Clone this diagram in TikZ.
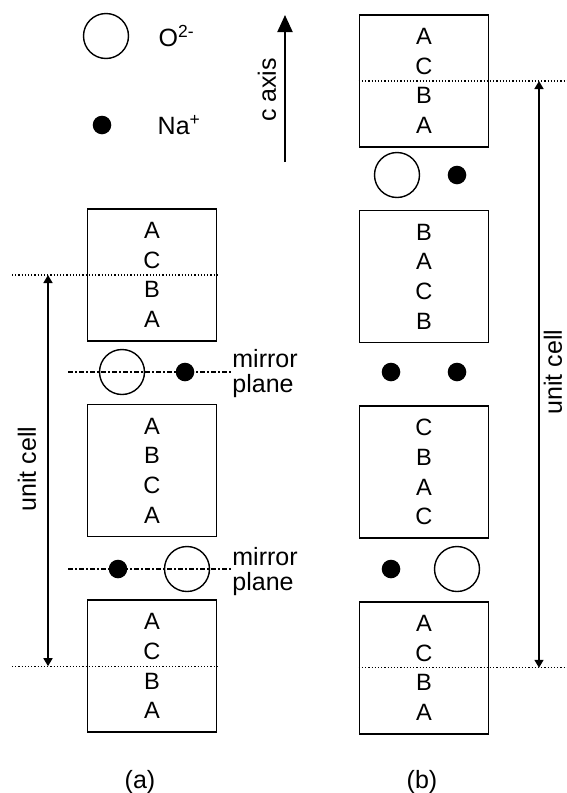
\documentclass[tikz,border=0pt]{standalone}
\usepackage{fontspec}
\setmainfont{Liberation Sans}
\usetikzlibrary{arrows.meta,positioning}

\begin{document}
\begin{tikzpicture}[x=0.5pt, y=-0.5pt, node distance=31pt]
  \tikzset{
    stack/.style={rectangle, draw, line width=0.8pt, minimum width=64.5pt, minimum height=66pt,
      inner sep=0pt, align=center, font=\fontsize{11.8}{14.8}\selectfont},
    oxy/.style={circle, draw, line width=0.7pt, minimum size=22.5pt, inner sep=0pt},
    sod/.style={circle, fill, minimum size=9.3pt, inner sep=0pt},
    lbl/.style={inner sep=0pt, font=\fontsize{12.5}{12.5}\selectfont},
    cellline/.style={densely dotted, line width=0.6pt},
    mirrorline/.style={line width=0.6pt, dash pattern=on 2.5pt off 1.2pt on 0.6pt off 1.2pt},
    cellarrow/.style={{Triangle[length=4pt,width=4.5pt]}-{Triangle[length=4pt,width=4.5pt]}, line width=0.8pt}
  }
  \useasboundingbox (0,0) rectangle (567,793);

  \node[oxy] (ko) at (106,36) {};
  \node[lbl, right=14.5pt of ko] (kol) {O\textsuperscript{2-}};
  \node[sod] (kn) at (102,125) {};
  \node[lbl, right=22.8pt of kn] (knl) {Na\textsuperscript{+}};

  \coordinate (cb) at (285,162);
  \coordinate (ct) at (285,15);
  \draw[-{Triangle[length=8.5pt,width=7.5pt]}, line width=1pt] (cb) -- (ct);
  \node[lbl, rotate=90] (cax) at (267,90) {c axis};

  \node[stack] (a1) at (152,275) {A\\C\\B\\A};
  \node[stack, below=of a1] (a2) {A\\B\\C\\A};
  \node[stack, below=of a2] (a3) {A\\C\\B\\A};

  \node[stack] (b1) at (424,81) {A\\C\\B\\A};
  \node[stack, below=of b1] (b2) {B\\A\\C\\B};
  \node[stack, below=of b2] (b3) {C\\B\\A\\C};
  \node[stack, below=of b3] (b4) {A\\C\\B\\A};

  \node[lbl, align=left, anchor=west] (mp1) at (232,374) {mirror\\plane};
  \node[lbl, align=left, anchor=west] (mp2) at (232,572) {mirror\\plane};
  \coordinate (ml1) at (68,372);
  \coordinate (ml2) at (68,569);
  \draw[mirrorline] (ml1) -- (ml1 -| mp1.west);
  \draw[mirrorline] (ml2) -- (ml2 -| mp2.west);

  \node[oxy] (ao1) at (122,372) {};
  \node[sod] (an1) at (185,372) {};
  \node[sod] (an2) at (118,569) {};
  \node[oxy] (ao2) at (187,569) {};

  \node[oxy] (bo1) at (397,175) {};
  \node[sod] (bn1) at (457,175) {};
  \node[sod] (bn2) at (391,372) {};
  \node[sod] (bn3) at (457,372) {};
  \node[sod] (bn4) at (391,569) {};
  \node[oxy] (bo2) at (457,569) {};

  \coordinate (da) at (12,275);
  \draw[cellline] (da) -- (a1.east);
  \draw[cellline] (da |- a3) -- (a3.east);
  \coordinate (db) at (567,81);
  \draw[cellline] (b1.west) -- (db);
  \draw[cellline] (b4.west) -- (db |- b4);

  \coordinate (ua) at (48,275);
  \draw[cellarrow] (ua) -- (ua |- a3);
  \node[lbl, rotate=90] (ucla) at (27,469) {unit cell};
  \coordinate (ub) at (539,81);
  \draw[cellarrow] (ub) -- (ub |- b4);
  \node[lbl, rotate=90] (uclb) at (553,372) {unit cell};

  \node[lbl] (capa) at (140,782) {(a)};
  \node[lbl] (capb) at (422,782) {(b)};
\end{tikzpicture}
\end{document}
